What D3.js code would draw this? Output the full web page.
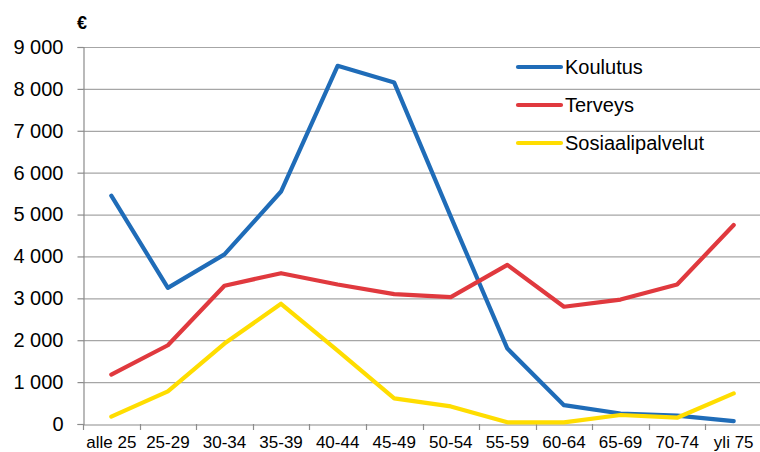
<!DOCTYPE html>
<html><head><meta charset="utf-8">
<script src="https://cdn.jsdelivr.net/npm/d3@7/dist/d3.min.js"></script>
<style>body{margin:0;background:#fff}svg{display:block}</style>
</head><body>
<script>
const categories = ["alle 25","25-29","30-34","35-39","40-44","45-49","50-54","55-59","60-64","65-69","70-74","yli 75"];
const koulutus = [5450,3250,4050,5550,8550,8150,4950,1800,450,250,200,70];
const terveys = [1180,1880,3300,3600,3330,3100,3030,3800,2800,2970,3330,4750];
const sosiaalipalvelut = [175,780,1920,2870,1750,610,420,40,40,215,150,730];
const seriesNames = ["Koulutus","Terveys","Sosiaalipalvelut"];
const seriesColors = ["#1f6cb8","#e0393e","#ffdd00"];
const yTicks = [0,1000,2000,3000,4000,5000,6000,7000,8000,9000];
const unitLabel = "€";

(function () {
const W = 760, H = 452;
const mLeft = 83, mRight = 762, mTop = 47, mBottom = 424;
const svg = d3.select("body").append("svg").attr("width", W).attr("height", H);

const x = d3.scaleBand().domain(categories).range([mLeft, mRight]);
const y = d3.scaleLinear().domain([0, 9000]).range([mBottom, mTop]);
const fmt = v => d3.format(",")(v).replace(/,/g, " ");

// gridlines
svg.append("g").selectAll("line").data(yTicks.filter(d => d > 0)).join("line")
  .attr("x1", mLeft).attr("x2", mRight)
  .attr("y1", d => y(d) + 0.5).attr("y2", d => y(d) + 0.5)
  .attr("stroke", "#a6a6a6").attr("stroke-width", 1.2);

// y axis
const yAxis = svg.append("g").attr("transform", `translate(${mLeft + 0.5},0)`)
  .call(d3.axisLeft(y).tickValues(yTicks).tickFormat(fmt).tickSize(6).tickPadding(14));
yAxis.select(".domain").attr("stroke", "#8c8c8c").attr("stroke-width", 1.2);
yAxis.selectAll(".tick line").attr("stroke", "#8c8c8c").attr("stroke-width", 1.2);
yAxis.selectAll("text").attr("font-family", "Liberation Sans, Arial, sans-serif")
  .attr("font-size", 20).attr("fill", "#000");

// x axis
const xAxis = svg.append("g").attr("transform", `translate(0,${mBottom + 0.5})`)
  .call(d3.axisBottom(x).tickSize(0).tickPadding(9));
xAxis.select(".domain").attr("stroke", "#8c8c8c").attr("stroke-width", 1.2);
xAxis.selectAll("text").attr("font-family", "Liberation Sans, Arial, sans-serif")
  .attr("font-size", 17).attr("fill", "#000").attr("dy", "0.85em");
// boundary ticks
const bounds = categories.map(c => x(c)).concat([x(categories[categories.length-1]) + x.bandwidth()]);
svg.append("g").selectAll("line").data(bounds).join("line")
  .attr("x1", d => Math.round(d) + 0.5).attr("x2", d => Math.round(d) + 0.5)
  .attr("y1", mBottom).attr("y2", mBottom + 6)
  .attr("stroke", "#8c8c8c").attr("stroke-width", 1.2);

// unit label
svg.append("text").attr("x", 77).attr("y", 29).text(unitLabel)
  .attr("font-family", "Liberation Sans, Arial, sans-serif").attr("font-size", 18)
  .attr("font-weight", "bold").attr("fill", "#000");

// lines
const seriesData = [koulutus, terveys, sosiaalipalvelut];
const line = d3.line().x((d, i) => x(categories[i]) + x.bandwidth() / 2).y(d => y(d));
[0,1,2].forEach(k => {
  svg.append("path").datum(seriesData[k]).attr("d", line)
    .attr("fill", "none").attr("stroke", seriesColors[k]).attr("stroke-width", 4.2)
    .attr("stroke-linejoin", "round").attr("stroke-linecap", "round");
});

// legend
const lg = svg.append("g");
seriesNames.forEach((n, i) => {
  const cy = 67 + i * 38;
  lg.append("line").attr("x1", 518).attr("x2", 561).attr("y1", cy).attr("y2", cy)
    .attr("stroke", seriesColors[i]).attr("stroke-width", 4.2).attr("stroke-linecap", "round");
  lg.append("text").attr("x", 565).attr("y", cy + 7).text(n)
    .attr("font-family", "Liberation Sans, Arial, sans-serif").attr("font-size", 20).attr("fill", "#000");
});
})();
</script>
</body></html>
